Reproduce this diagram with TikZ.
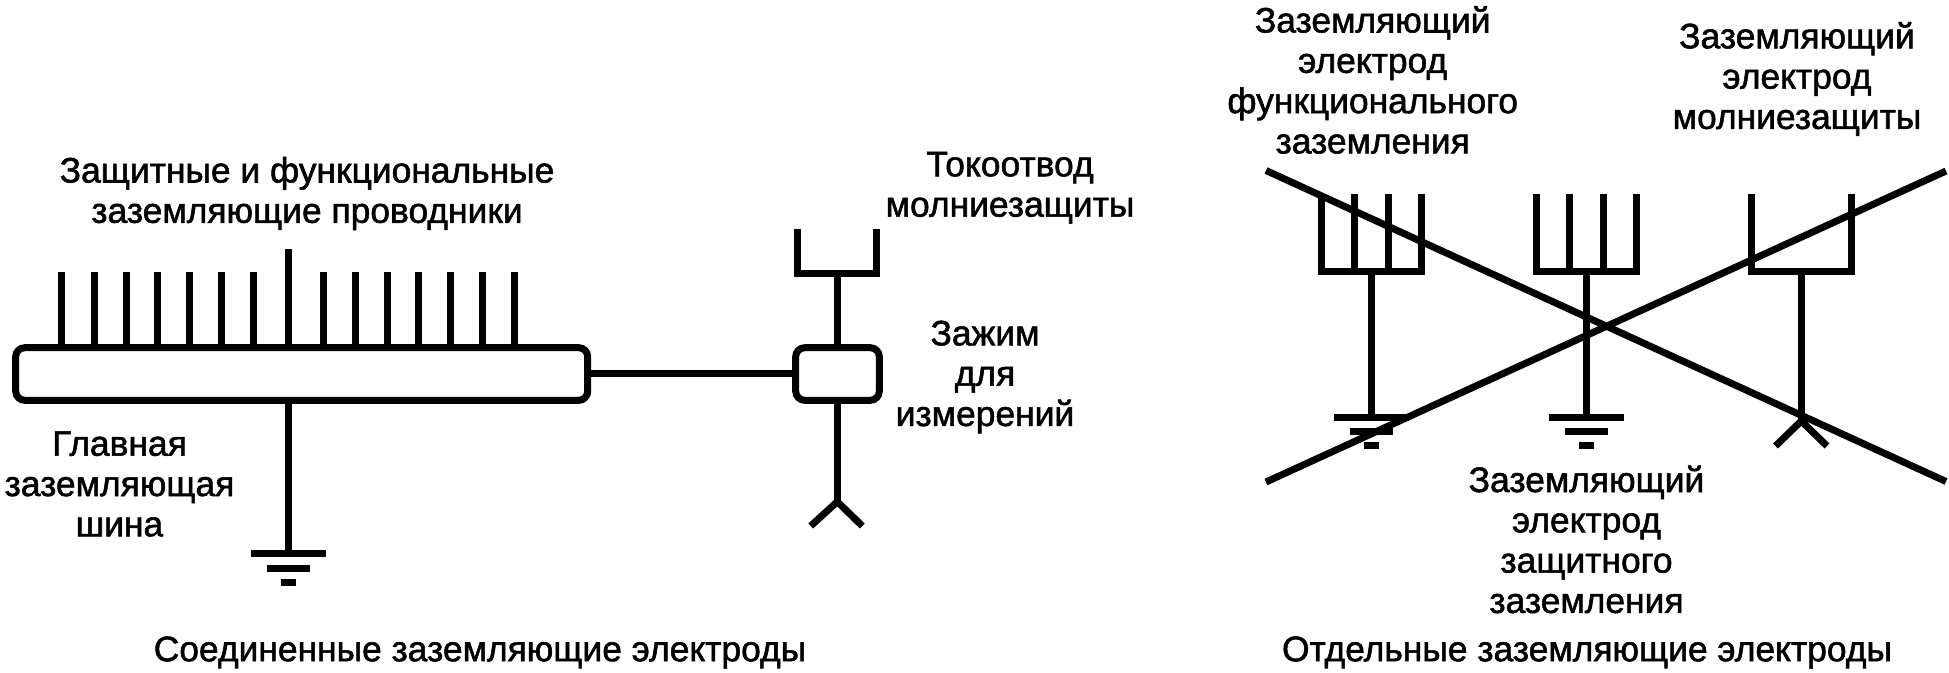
\documentclass[tikz,border=0pt]{standalone}
\usepackage{fontspec}
\setmainfont{Liberation Sans}
\newfontfamily\lblfont{Liberation Sans}[FakeBold=1.5]
\tikzset{
  x=0.5pt,y=-0.5pt,
  wire/.style={line width=3.5pt,line cap=butt,line join=miter,black},
  rbox/.style={draw=black,line width=3.5pt,rounded corners=4.5pt,inner sep=0pt,outer sep=0pt},
  lbl/.style={inner sep=0pt,outer sep=0pt,align=center,text=black,font=\lblfont\fontsize{17.7}{20.15}\selectfont},
  pics/gnd/.style 2 args={code={
    \draw[wire] (-37.5,0) -- (37.5,0);
    \draw[wire] (-21.5,#1) -- (21.5,#1);
    \draw[wire] (-7.5,#2) -- (7.5,#2);
  }},
}
\begin{document}
\begin{tikzpicture}
\useasboundingbox (0,0) rectangle (1949,673);
% ---- left diagram
\node[rbox,minimum width=286pt,minimum height=26.3pt] (bar) at (301.7,374) {};
\node[rbox,minimum width=41.8pt,minimum height=26.3pt] (clamp) at (837.5,374) {};
\draw[wire] (bar.east) -- (clamp.west);
\foreach \tx in {61.3,94.3,126.3,157.3,189.3,221.3,253.3,323.3,355.3,387.3,418.3,450.3,482.3,514.3}
  \draw[wire] (\tx,272) -- (\tx,347.3);
\coordinate (gndA) at (288.5,553.5);
\coordinate (busTop) at (288.3,249);
\draw[wire] (busTop) -- (288.3,347.3);
\draw[wire] (288.3,400) -- (288.3,553.5);
\pic at (gndA) {gnd={15}{29}};
\coordinate (rodL) at (797.3,229);
\coordinate (rodR) at (876.3,229);
\coordinate (rodBase) at (837.3,273.3);
\draw[wire] (rodL) -- (797.3,273.3) -- (876.3,273.3) -- (rodR);
\draw[wire] (rodBase) -- (837.3,347.7);
\coordinate (eApex) at (837.3,501.7);
\draw[wire] (837.3,400) -- (eApex);
\draw[wire] (810.7,526) -- (eApex) -- (862.3,526);
% ---- right diagram
\draw[wire] (1321.7,194) -- (1321.7,271.3) -- (1421.3,271.3) -- (1421.3,194);
\draw[wire] (1354.7,194) -- (1354.7,271.3);
\draw[wire] (1388.3,194) -- (1388.3,271.3);
\coordinate (gndB) at (1371.5,417.7);
\draw[wire] (1371.7,271.3) -- (1371.7,417.7);
\pic at (gndB) {gnd={14.1}{27.6}};
\draw[wire] (1536.3,194) -- (1536.3,271.3) -- (1636.7,271.3) -- (1636.7,194);
\draw[wire] (1569.3,194) -- (1569.3,271.3);
\draw[wire] (1603,194) -- (1603,271.3);
\coordinate (gndC) at (1586.5,417.7);
\draw[wire] (1586.5,271.3) -- (gndC);
\pic at (gndC) {gnd={14.1}{27.6}};
\draw[wire] (1751.3,194) -- (1751.3,271.3) -- (1851.3,271.3) -- (1851.3,194);
\coordinate (fApex) at (1801.3,421);
\draw[wire] (1801.3,271.3) -- (fApex);
\draw[wire] (1775.5,446) -- (fApex) -- (1827,446);
\coordinate (crossA) at (1266,170.5);
\coordinate (crossB) at (1946,481.5);
\coordinate (crossC) at (1266,482);
\coordinate (crossD) at (1946,171);
\draw[wire] (crossA) -- (crossB);
\draw[wire] (crossC) -- (crossD);
% ---- labels
\node[lbl] (t1) at (307,193.5) {Защитные и функциональные\\заземляющие проводники};
\node[lbl] (t2) at (119.5,484) {Главная\\заземляющая\\шина};
\node[lbl] (t3) at (1010,187.8) {Токоотвод\\молниезащиты};
\node[lbl] (t4) at (985,377) {Зажим\\для\\измерений};
\node[lbl] (t5) at (480,652.5) {Соединенные заземляющие электроды};
\node[lbl] (t6) at (1372.7,80) {Заземляющий\\электрод\\функционального\\заземления};
\node[lbl] (t7) at (1797,79) {Заземляющий\\электрод\\молниезащиты};
\node[lbl] (t8) at (1586.5,539.5) {Заземляющий\\электрод\\защитного\\заземления};
\node[lbl] (t9) at (1587,652.5) {Отдельные заземляющие электроды};
\end{tikzpicture}
\end{document}
